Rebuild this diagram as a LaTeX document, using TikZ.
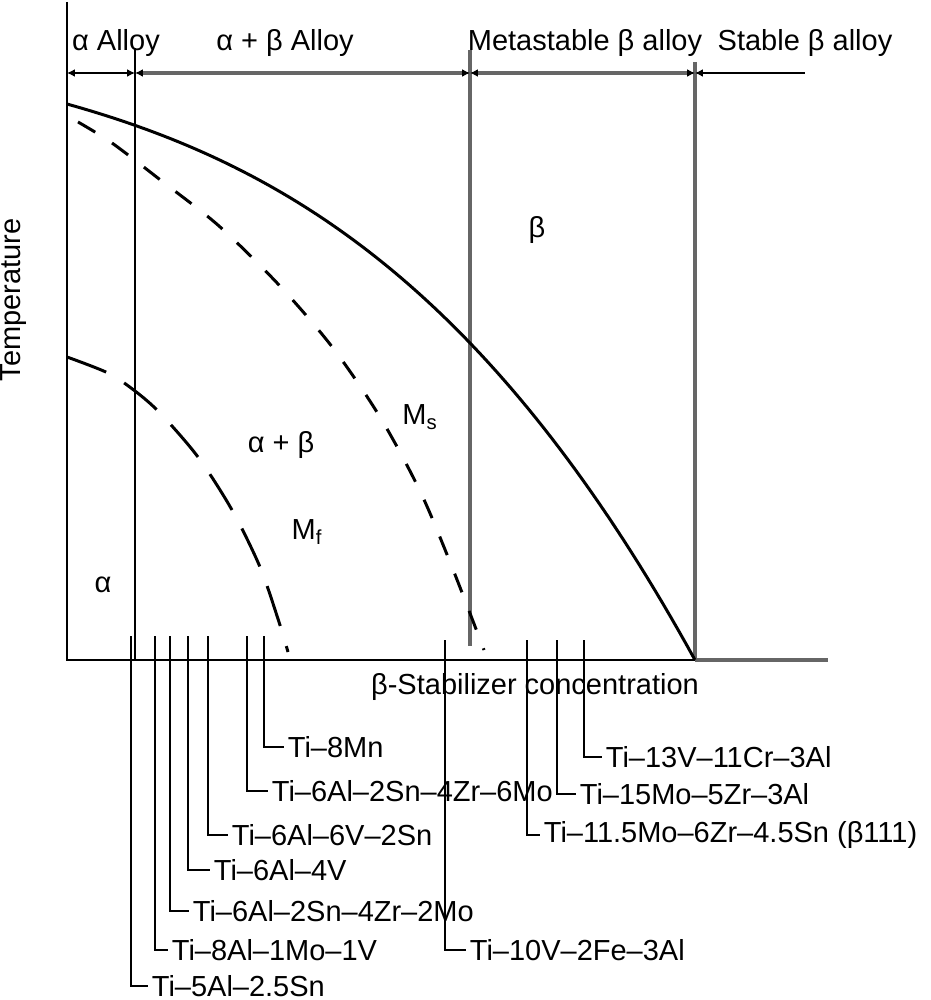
\documentclass[tikz,border=0pt]{standalone}
\usepackage{fontspec}
\setmainfont{Liberation Sans}
\usetikzlibrary{arrows.meta}

\tikzset{
  every node/.style={font=\fontsize{16.5}{19}\selectfont, inner sep=0pt},
  axis/.style={line width=1.2pt},
  bound/.style={line width=0.85pt},
  gbound/.style={line width=2.3pt, black!60},
  span/.style={bound, {Latex[length=4.5pt,width=4.5pt,color=black]}-{Latex[length=4.5pt,width=4.5pt,color=black]}},
  gspan/.style={gbound, {Latex[length=4.5pt,width=4.5pt,color=black]}-{Latex[length=4.5pt,width=4.5pt,color=black]}},
  transus/.style={line width=1.7pt},
  mstart/.style={line width=1.7pt, dash pattern=on 0.4cm off 0.4cm},
  mfinish/.style={line width=1.7pt, dash pattern=on 0.84cm off 0.42cm},
  lead/.style={line width=0.85pt},
  alloy/.style={anchor=west, inner sep=2pt}
}

\begin{document}
\begin{tikzpicture}[x=0.02cm, y=-0.02cm]
\useasboundingbox (0,0) rectangle (930,1000);

\coordinate (o) at (67,660);
\coordinate (ytop) at (67,2);
\coordinate (xs) at (695,660);
\coordinate (xend) at (828,660);
\draw[axis] (ytop) -- (o) -- (xs);
\draw[gbound] (xs) -- (xend);

\coordinate (b1) at (135,48);
\coordinate (b1x) at (135,660);
\coordinate (b2) at (470,50);
\coordinate (b2x) at (470,646);
\coordinate (b3) at (695,62);
\draw[bound] (b1) -- (b1x);
\draw[gbound] (b2) -- (b2x);
\draw[gbound] (b3) -- (xs);

\def\y{73}
\coordinate (r0) at (67,\y);
\coordinate (r1) at (135,\y);
\coordinate (r2) at (470,\y);
\coordinate (r3) at (695,\y);
\coordinate (r4) at (805,\y);
\draw[span] (r0) -- (r1);
\draw[gspan] (r1) -- (r2);
\draw[gspan] (r2) -- (r3);
\draw[bound, {Latex[length=4.5pt,width=4.5pt]}-] (r3) -- (r4);

\def\y{43}
\node (aa) at (116,\y) {α Alloy};
\node (aba) at (285,\y) {α + β Alloy};
\node (mba) at (585,\y) {Metastable β alloy};
\node (sba) at (805,\y) {Stable β alloy};

\draw[transus] plot[domain=0:6.28, samples=80] ({67+100*\x}, {104+28*\x+4.417*\x*\x+0.8316*\x*\x*\x});
\draw[mstart] plot[smooth] coordinates {(78,122) (112,143) (163,182) (219,226) (279,285) (333,348) (380,417) (420,491) (452,567) (484,650)};
\draw[mfinish] plot[smooth] coordinates {(67,357) (108,373) (135,391) (160,413) (198,457) (232,510) (260,567) (279,622) (288,652)};

\node[rotate=90] (temp) at (14,300) {Temperature};
\node (alpha) at (103,585) {α};
\node (ab) at (281,445) {α + β};
\node (beta) at (537,230) {β};
\node (ms) at (420,417) {M\textsubscript{s}};
\node (mf) at (307,532) {M\textsubscript{f}};
\node (xlab) at (535,687) {β-Stabilizer concentration};

\coordinate (t1) at (131,636);
\coordinate (t2) at (155,636);
\coordinate (t3) at (170,636);
\coordinate (t4) at (188,636);
\coordinate (t5) at (208,636);
\coordinate (t6) at (247,636);
\coordinate (t7) at (264,636);
\coordinate (t8) at (445,640);
\coordinate (t9) at (527,640);
\coordinate (t10) at (557,640);
\coordinate (t11) at (584,640);

\node[alloy] (a1) at (148,986) {Ti–5Al–2.5Sn};
\node[alloy] (a2) at (168,950) {Ti–8Al–1Mo–1V};
\node[alloy] (a3) at (189,911) {Ti–6Al–2Sn–4Zr–2Mo};
\node[alloy] (a4) at (210,870) {Ti–6Al–4V};
\node[alloy] (a5) at (228,835) {Ti–6Al–6V–2Sn};
\node[alloy] (a6) at (268,791) {Ti–6Al–2Sn–4Zr–6Mo};
\node[alloy] (a7) at (284,747) {Ti–8Mn};
\node[alloy] (a8) at (466,950) {Ti–10V–2Fe–3Al};
\node[alloy] (a9) at (540,835) {Ti–11.5Mo–6Zr–4.5Sn (β111)};
\node[alloy] (a10) at (576,794) {Ti–15Mo–5Zr–3Al};
\node[alloy] (a11) at (602,757) {Ti–13V–11Cr–3Al};

\draw[lead] (t1) |- (a1);
\draw[lead] (t2) |- (a2);
\draw[lead] (t3) |- (a3);
\draw[lead] (t4) |- (a4);
\draw[lead] (t5) |- (a5);
\draw[lead] (t6) |- (a6);
\draw[lead] (t7) |- (a7);
\draw[lead] (t8) |- (a8);
\draw[lead] (t9) |- (a9);
\draw[lead] (t10) |- (a10);
\draw[lead] (t11) |- (a11);

\end{tikzpicture}
\end{document}
